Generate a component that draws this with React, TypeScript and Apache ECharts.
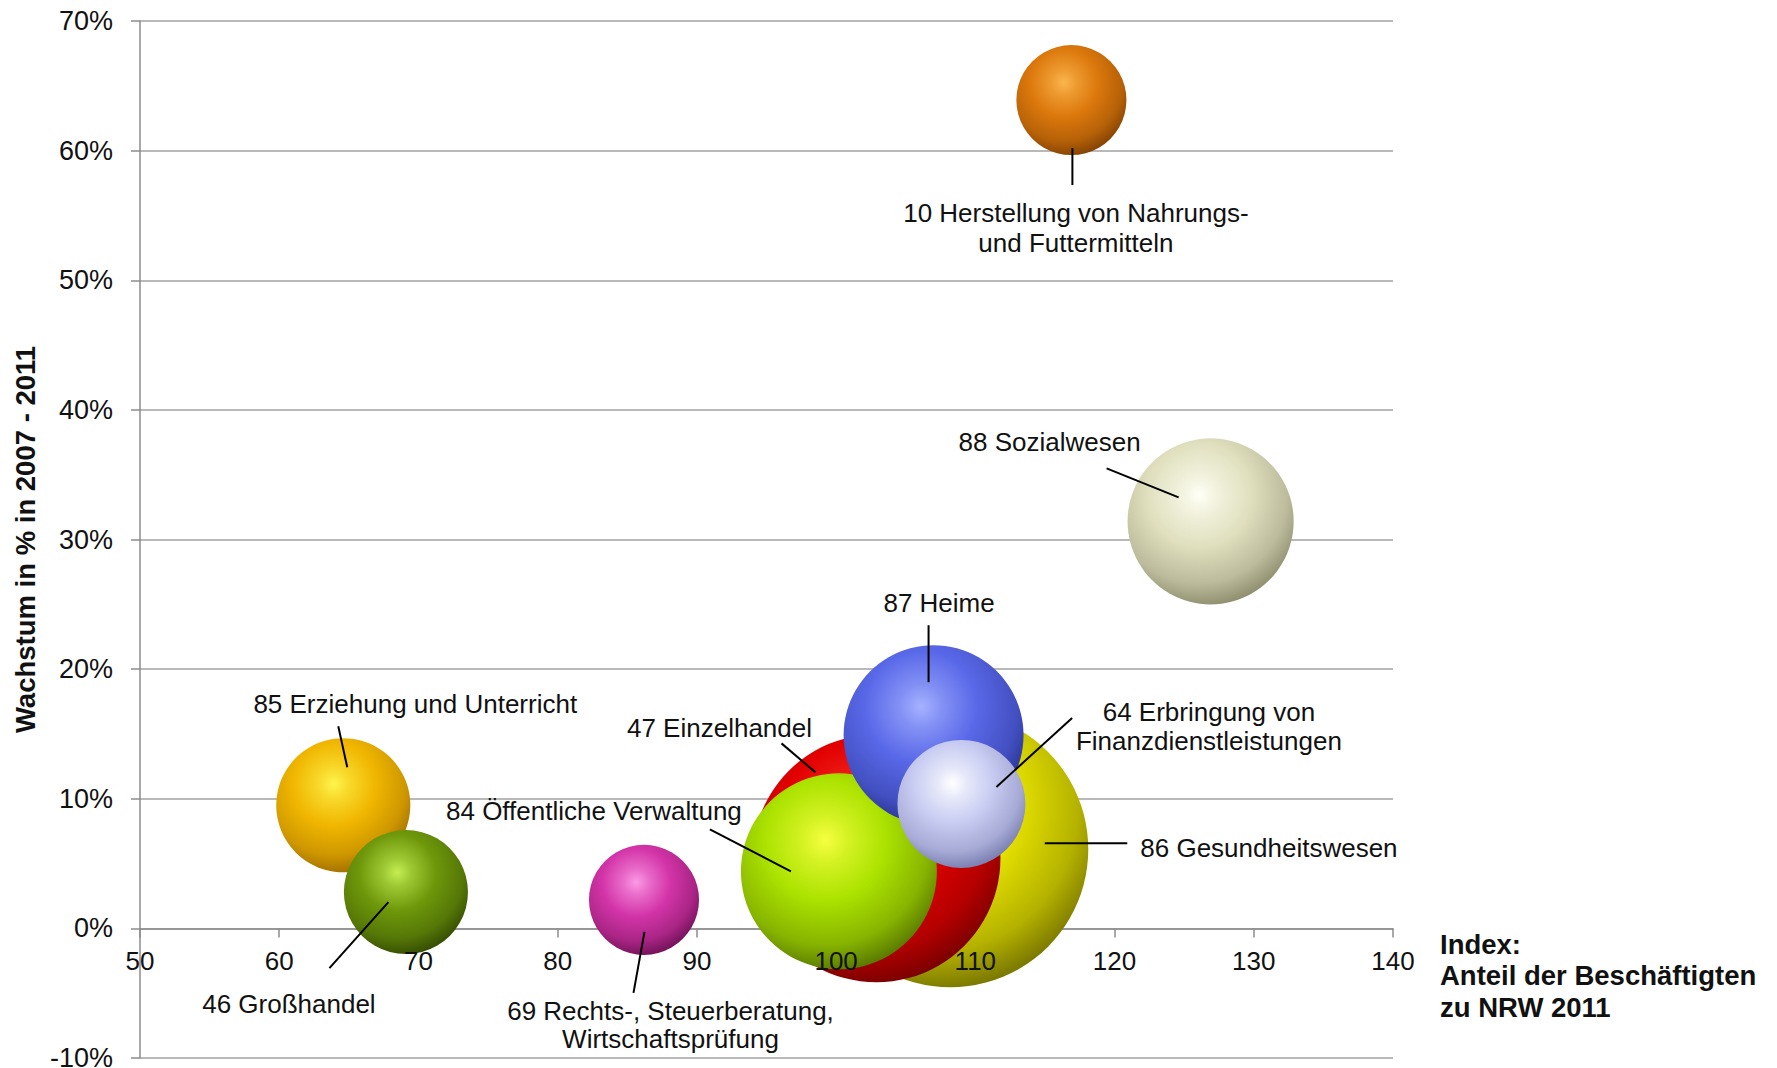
import React, { useEffect, useRef } from "react";
import * as echarts from "echarts";

// Wirtschaftszweige (WZ 2008), label lines as printed
const sectorLabels: string[][] = [
  ["10 Herstellung von Nahrungs-", "und Futtermitteln"],
  ["88 Sozialwesen"],
  ["85 Erziehung und Unterricht"],
  ["46 Großhandel"],
  ["69 Rechts-, Steuerberatung,", "Wirtschaftsprüfung"],
  ["47 Einzelhandel"],
  ["86 Gesundheitswesen"],
  ["84 Öffentliche Verwaltung"],
  ["87 Heime"],
  ["64 Erbringung von", "Finanzdienstleistungen"],
];

// Index: Anteil der Beschäftigten zu NRW 2011 (x)
const indexNRW = [116.9, 126.9, 64.6, 69.1, 86.2, 102.9, 108.2, 100.2, 107.0, 109.0];
// Wachstum in % 2007 - 2011 (y)
const growthPct = [63.9, 31.4, 9.5, 2.8, 2.2, 5.4, 6.1, 4.4, 14.9, 9.6];
// relative bubble size (area)
const bubbleSize = [15.9, 36.2, 23.6, 20.2, 15.9, 80.7, 100, 50.4, 42.5, 21.5];

const xRange = [50, 140];
const yRange = [-10, 70];
const tickStep = 10;

// sphere shading per sector: highlight, body, shadow
const palette: string[][] = [
  ["#fbb64e", "#dc780c", "#6e3600"],
  ["#fffff6", "#e0e0bf", "#7a7a5a"],
  ["#fff44c", "#f0b600", "#8e5e00"],
  ["#c4ee52", "#6e980a", "#263a00"],
  ["#fb9ae6", "#d334a8", "#5a0a44"],
  ["#ff4a3a", "#e20000", "#600000"],
  ["#ffff74", "#e4e000", "#5e5c00"],
  ["#f6ff40", "#abe200", "#445f00"],
  ["#a6b2ff", "#5968e8", "#1a2378"],
  ["#ffffff", "#c8ccf2", "#666aa0"],
];

// label placement relative to the bubble centre (px)
type LabelPos = {
  dx: number;
  dy: number;
  align: "left" | "center" | "right";
  lh: number;
  leader: [number, number, number, number];
};
const labelPos: LabelPos[] = [
  { dx: 4.5, dy: 113, align: "center", lh: 30, leader: [1, 48, 1, 85] },
  { dx: -70, dy: -79, align: "right", lh: 30, leader: [-104, -53, -32, -24] },
  { dx: 72, dy: -101.5, align: "center", lh: 30, leader: [-5, -79, 4, -38] },
  { dx: -117, dy: 112, align: "center", lh: 30, leader: [-76.5, 76, -17.5, 10] },
  { dx: 26.5, dy: 111, align: "center", lh: 28, leader: [-10.5, 93, 0.5, 32] },
  { dx: -157, dy: -130, align: "center", lh: 30, leader: [-95, -115, -61, -86] },
  { dx: 190, dy: -1, align: "left", lh: 30, leader: [94.5, -6, 177, -6] },
  { dx: -245, dy: -60, align: "center", lh: 30, leader: [-129, -42, -48, 0] },
  { dx: 5.5, dy: -132, align: "center", lh: 30, leader: [-5, -110, -5, -53] },
  { dx: 247.5, dy: -92, align: "center", lh: 29.5, leader: [110.7, -86, 35, -17] },
];

const WIDTH = 1777;
const HEIGHT = 1068;
const GRID = { left: 140, right: 384, top: 21, bottom: 10 };
const MAX_RADIUS = 138;
const FONT = "'Liberation Sans', Arial, Helvetica, sans-serif";

function mix(a: string, b: string, t: number) {
  const pa = [1, 3, 5].map((k) => parseInt(a.slice(k, k + 2), 16));
  const pb = [1, 3, 5].map((k) => parseInt(b.slice(k, k + 2), 16));
  return (
    "#" +
    pa
      .map((v, k) => Math.round(v + (pb[k] - v) * t).toString(16).padStart(2, "0"))
      .join("")
  );
}

function sphere(c: string[]) {
  return {
    type: "radial",
    x: 0.43,
    y: 0.34,
    r: 0.74,
    colorStops: [
      { offset: 0, color: c[0] },
      { offset: 0.16, color: mix(c[0], c[1], 0.45) },
      { offset: 0.42, color: c[1] },
      { offset: 0.72, color: mix(c[1], c[2], 0.35) },
      { offset: 1, color: c[2] },
    ],
  };
}

export default function App() {
  const ref = useRef<HTMLDivElement>(null);

  useEffect(() => {
    if (!ref.current) return;
    const chart = echarts.init(ref.current, null, { renderer: "svg" });
    const maxSize = Math.max(...bubbleSize);

    // the x axis crosses at 0 %: shift it up from the bottom edge
    const plotHeight = HEIGHT - GRID.top - GRID.bottom;
    const zeroOffset = (plotHeight * (0 - yRange[0])) / (yRange[1] - yRange[0]);

    // larger bubbles are drawn first so smaller ones stay visible
    const order = bubbleSize
      .map((_, i) => i)
      .sort((a, b) => bubbleSize[b] - bubbleSize[a]);

    const data = order.map((i) => ({
      name: sectorLabels[i].join(" "),
      value: [indexNRW[i], growthPct[i], bubbleSize[i]],
      itemStyle: { color: sphere(palette[i]) as any, opacity: 1 },
    }));

    const xBase = {
      type: "value",
      position: "bottom",
      offset: -zeroOffset,
      min: xRange[0],
      max: xRange[1],
      interval: tickStep,
      splitLine: { show: false },
    };

    chart.setOption({
      animation: false,
      backgroundColor: "#ffffff",
      textStyle: { fontFamily: FONT },
      grid: { ...GRID, containLabel: false, outerBoundsMode: "none" },
      xAxis: [
        {
          // axis line, ticks and title (behind the bubbles)
          ...xBase,
          name: "Index:\nAnteil der Beschäftigten\nzu NRW 2011",
          nameLocation: "end",
          nameGap: 47,
          nameTextStyle: {
            fontFamily: FONT,
            fontSize: 27.5,
            fontWeight: "bold",
            color: "#111",
            align: "left",
            verticalAlign: "top",
            lineHeight: 31.5,
          },
          axisLine: { show: true, onZero: false, lineStyle: { color: "#8c8c8c", width: 1.5 } },
          axisTick: { show: true, inside: false, length: 9, lineStyle: { color: "#8c8c8c", width: 1.5 } },
          axisLabel: { show: false },
          z: 0,
        },
        {
          // tick labels, printed over the bubbles
          ...xBase,
          axisLine: { show: false, onZero: false },
          axisTick: { show: false },
          axisLabel: {
            fontFamily: FONT,
            fontSize: 26,
            color: "#111",
            margin: 20,
            lineHeight: 26,
          },
          z: 10,
        },
      ],
      yAxis: {
        type: "value",
        min: yRange[0],
        max: yRange[1],
        interval: tickStep,
        name: "Wachstum in % in 2007 - 2011",
        nameLocation: "middle",
        nameRotate: 90,
        nameGap: 97,
        nameTextStyle: {
          fontFamily: FONT,
          fontSize: 27.5,
          fontWeight: "bold",
          color: "#111",
        },
        axisLine: { show: true, lineStyle: { color: "#8c8c8c", width: 1.5 } },
        axisTick: { show: true, inside: false, length: 9, lineStyle: { color: "#8c8c8c", width: 1.5 } },
        axisLabel: {
          fontFamily: FONT,
          fontSize: 27,
          color: "#111",
          margin: 27,
          formatter: "{value}%",
        },
        splitLine: { show: true, lineStyle: { color: "#a2a2a2", width: 1.5 } },
      },
      series: [
        {
          type: "scatter",
          xAxisIndex: 0,
          data,
          symbol: "circle",
          symbolSize: (v: number[]) => 2 * MAX_RADIUS * Math.sqrt(v[2] / maxSize),
          itemStyle: { opacity: 1 },
          emphasis: { disabled: true },
          z: 2,
        },
      ],
    });

    // leader lines and sector labels
    const graphic: any[] = [];
    sectorLabels.forEach((lines, i) => {
      const p = chart.convertToPixel({ gridIndex: 0 }, [indexNRW[i], growthPct[i]]) as number[];
      const cx = p[0];
      const cy = p[1];
      const lp = labelPos[i];
      graphic.push({
        type: "line",
        z: 100,
        shape: {
          x1: cx + lp.leader[0],
          y1: cy + lp.leader[1],
          x2: cx + lp.leader[2],
          y2: cy + lp.leader[3],
        },
        style: { stroke: "#000", lineWidth: 2 },
        silent: true,
      });
      lines.forEach((line, k) => {
        graphic.push({
          type: "text",
          z: 100,
          x: cx + lp.dx,
          y: cy + lp.dy + k * lp.lh,
          style: {
            text: line,
            fill: "#111",
            fontSize: 26,
            fontFamily: FONT,
            align: lp.align,
            verticalAlign: "middle",
          },
          silent: true,
        });
      });
    });
    chart.setOption({ graphic });

    return () => chart.dispose();
  }, []);

  return (
    <div
      ref={ref}
      style={{ position: "absolute", left: 0, top: 0, width: WIDTH, height: HEIGHT, background: "#fff" }}
    />
  );
}
